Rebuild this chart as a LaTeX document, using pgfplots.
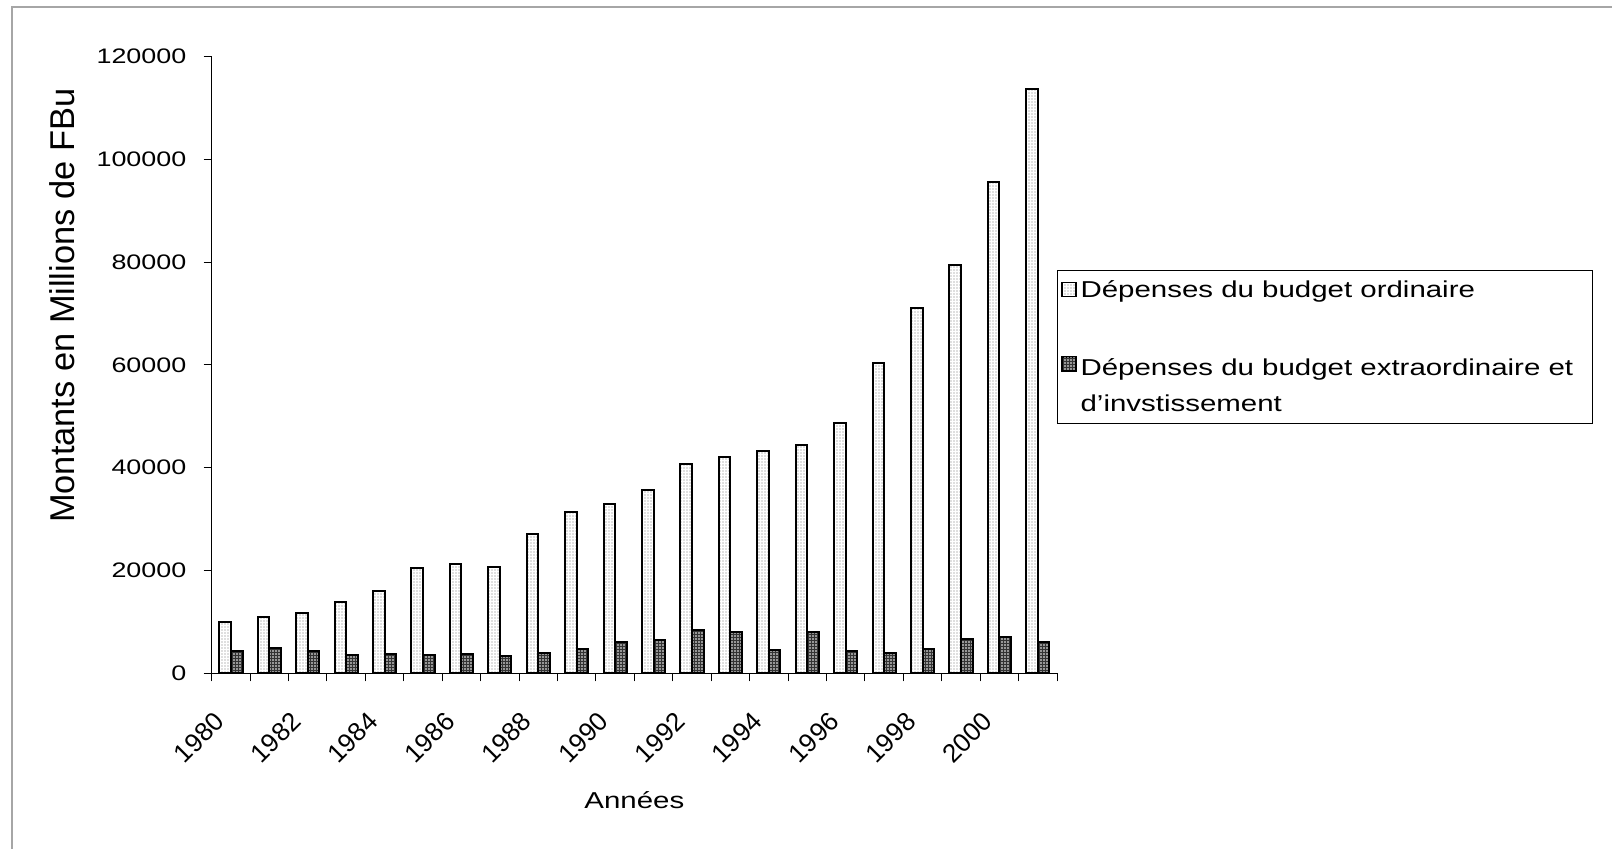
\documentclass[border=0pt]{standalone}
\usepackage{fontspec}
\setmainfont{Liberation Sans}[FakeStretch=1.28]
\newfontfamily\uprightlabel{Liberation Sans}
\usepackage{pgfplots}
\pgfplotsset{compat=1.18}
\usetikzlibrary{patterns.meta}

% Dépenses publiques, 1980-2001 (millions de FBu); x = année - 1980
\pgfplotstableread{
x ord ext
0 10000 4400
1 11000 4900
2 11800 4400
3 13900 3500
4 16000 3800
5 20500 3500
6 21200 3700
7 20600 3350
8 27200 3900
9 31400 4700
10 33000 6100
11 35700 6500
12 40800 8400
13 42100 8100
14 43200 4450
15 44500 8050
16 48700 4250
17 60300 3900
18 71000 4700
19 79400 6700
20 95600 7000
21 113700 6100
}\budget

\begin{document}
\fontsize{10.5}{12.6}\selectfont
\begin{tikzpicture}[x=1pt,y=1pt]
\path[use as bounding box] (0,0) rectangle (806,424.5);
\draw[gray!70, line width=0.6pt] (6,0) -- (6,421) -- (806,421);
\begin{axis}[
  at={(105.85pt,87.85pt)}, anchor=south west,
  scale only axis, width=422.65pt, height=308.3pt,
  xmin=-0.5, xmax=21.5, ymin=0, ymax=120000,
  axis x line*=bottom, axis y line*=left,
  axis line style={line width=0.5pt},
  tick align=outside,
  ytick={0,20000,...,120000},
  major tick length=4pt,
  tick style={black, line width=0.5pt},
  xtick={-0.5,0.5,...,21.5},
  xticklabels={},
  extra x ticks={0,2,...,20},
  extra x tick labels={1980,1982,1984,1986,1988,1990,1992,1994,1996,1998,2000},
  extra x tick style={major tick length=0pt,
    xticklabel style={xshift=-9pt, yshift=-17pt, rotate=45, anchor=north east,
      inner sep=1pt, font=\uprightlabel\fontsize{13}{15}\selectfont}},
  yticklabel={\pgfmathprintnumber[fixed, precision=0, assume math mode=true, 1000 sep={}]{\tick}},
  yticklabel style={inner sep=2pt, xshift=-6.5pt, font=\fontsize{10.5}{12.6}\selectfont},
  scaled y ticks=false,
  ylabel={Montants en Millions de FBu},
  ylabel style={at={(axis description cs:-0.177,0.596)}, anchor=center,
    font=\uprightlabel\fontsize{17.2}{20}\selectfont},
  xlabel={Années},
  xlabel style={at={(axis description cs:0.5,-0.2055)}, anchor=center,
    font=\fontsize{11.5}{14}\selectfont},
  ybar=0pt, bar width=5.8pt,
  legend style={at={(axis description cs:1,0.654)}, anchor=north west,
    draw=none, fill=none, inner xsep=2pt, inner ysep=3pt,
    row sep=21pt, font=\fontsize{11.5}{18}\selectfont},
  legend image code/.code={\draw[#1, line width=0.6pt] (3pt,-3pt) rectangle (10pt,4pt);},
  legend cell align=left,
  clip=false,
]
\addplot[draw=black, line width=1pt,
  pattern={Dots[distance=1.5pt, radius=0.35pt]}, pattern color=black!55]
  table[x=x, y=ord] {\budget};
\addlegendentry{Dépenses du budget ordinaire}
\addplot[draw=black, line width=1pt, preaction={fill=black!80},
  pattern={Dots[distance=1.5pt, radius=0.4pt]}, pattern color=white]
  table[x=x, y=ext] {\budget};
\addlegendentry{\begin{tabular}[t]{@{}l@{}}Dépenses du budget extraordinaire et\\d'invstissement\end{tabular}}
% frame of the legend
\draw[black, line width=0.4pt] (axis description cs:1,0.654) rectangle (axis description cs:1.633,0.406);
\end{axis}
\end{tikzpicture}
\end{document}
